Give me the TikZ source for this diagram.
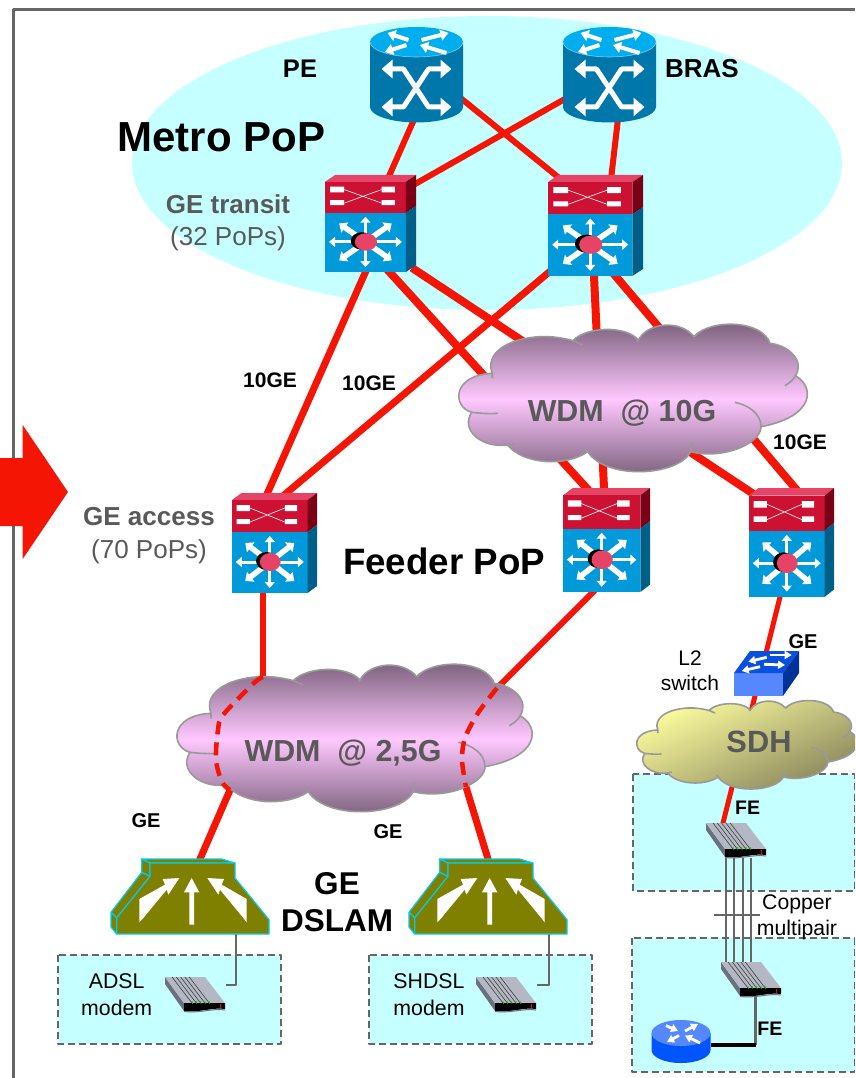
\documentclass[tikz,border=0pt]{standalone}
\usepackage{fontspec}
\setmainfont{Liberation Sans}
\usetikzlibrary{arrows.meta}
\definecolor{linkred}{HTML}{F51505}
\definecolor{popcyan}{HTML}{C6FFFF}
\definecolor{framegray}{HTML}{666666}
\definecolor{labgray}{HTML}{595959}
\definecolor{cloudline}{HTML}{999999}
\definecolor{wdmdark}{HTML}{755C76}
\definecolor{wdmpale}{HTML}{FFC8FF}
\definecolor{sdhpale}{HTML}{FFFFA0}
\definecolor{sdhdark}{HTML}{85825A}
\definecolor{swtop}{HTML}{E64466}
\definecolor{swred}{HTML}{CC1133}
\definecolor{swredside}{HTML}{7A0015}
\definecolor{swblue}{HTML}{0099D9}
\definecolor{swblueside}{HTML}{005F88}
\definecolor{cylbody}{HTML}{0077AA}
\definecolor{cyltop}{HTML}{00AEEF}
\definecolor{olivebox}{HTML}{808000}
\definecolor{oliveedge}{HTML}{00CCEE}
\definecolor{blueface}{HTML}{5588FF}
\definecolor{bluetop}{HTML}{0A50E0}
\definecolor{blueside}{HTML}{003399}
\definecolor{routerblue}{HTML}{0055FF}
\definecolor{modemtop}{HTML}{B4B8C4}
\definecolor{modemside}{HTML}{6B7080}
\tikzset{
  txt/.style 2 args={inner sep=0pt,font=\fontsize{#1}{#2}\selectfont},
  boldtxt/.style 2 args={inner sep=0pt,font=\bfseries\fontsize{#1}{#2}\selectfont},
  devbox/.style={inner sep=0pt,outer sep=0pt,minimum width=#1},
  redlink/.style={draw=linkred,line width=#1,shorten <=-5pt,shorten >=-5pt},
  reddash/.style={draw=linkred,line width=4.5pt,dash pattern=on 13pt off 8pt},
  graylink/.style={draw=framegray,line width=2.8pt},
  accessbox/.style={fill=popcyan,draw=framegray,line width=1.8pt,dash pattern=on 7pt off 4pt},
  spoke/.style={draw=white,line width=3pt,-{Triangle[width=10pt,length=6pt]}},
  diagspoke/.style={draw=white,line width=5.5pt,-{Triangle[width=12pt,length=7pt]}},
  twoway/.style={draw=white,line width=5pt,{Triangle[width=18pt,length=11pt]}-{Triangle[width=18pt,length=11pt]}},
  faceup/.style={draw=white,line width=2.8pt,-{Triangle[width=8pt,length=7pt]}},
  facewide/.style={draw=white,line width=4pt,-{Triangle[width=11pt,length=8pt]}},
  wdmshade/.style={top color=wdmdark,bottom color=wdmdark,middle color=wdmpale},
  sdhshade/.style={top color=sdhpale,bottom color=sdhdark,shading angle=25},
  pics/layerthree/.style={code={
    \fill[swtop] (0,7) -- (10,0) -- (90,0) -- (80,7) -- cycle;
    \fill[swred] (0,7) rectangle (80,39);
    \fill[swredside] (80,7) -- (90,0) -- (90,32) -- (80,39) -- cycle;
    \fill[swblue] (0,39) rectangle (80,100);
    \fill[swblueside] (80,39) -- (90,32) -- (90,93) -- (80,100) -- cycle;
    \fill[white] (5,12) rectangle (19,18) (5,26) rectangle (19,31) (56,12) rectangle (69,18) (56,26) rectangle (69,31);
    \draw[white,line width=.6pt] (19,15) -- (56,29) (19,29) -- (56,15);
    \foreach \a/\b in {36/0,-36/0,0/-26,0/26}
      \draw[spoke] (40,69) -- ++(\a,\b);
    \foreach \a/\b in {26/-19,-26/-19,26/19,-26/19}
      \draw[diagspoke] (40,69) -- ++(\a,\b);
    \fill[black] (36.5,68) ellipse (11pt and 9pt);
    \fill[swtop] (40.5,69) ellipse (11pt and 9pt);
  }},
  pics/bigcyl/.style={code={
    \fill[cylbody] (-46.5,-33) -- (-46.5,32) .. controls (-46.5,40.3) and (-25.7,47.5) .. (0,47.5)
      .. controls (25.7,47.5) and (46.5,40.3) .. (46.5,32) -- (46.5,-33) -- cycle;
    \fill[cyltop] (0,-33) ellipse (46.5pt and 15pt);
    \draw[white,opacity=.5,line width=.6pt] (-46.5,-33) .. controls (-46.5,-24.7) and (-25.7,-18) .. (0,-18)
      .. controls (25.7,-18) and (46.5,-24.7) .. (46.5,-33);
    \draw[twoway] (-35,-6) -- (-13,-6) -- (12,32) -- (35,32);
    \draw[twoway] (-35,32) -- (-13,32) -- (12,-6) -- (35,-6);
    \draw[facewide] (-8,-35) -- (-29,-42);
    \draw[facewide] (5,-35) -- (32,-42);
    \draw[facewide] (-10,-30) -- (-31.5,-23);
    \draw[facewide] (30,-22) -- (3.5,-30);
  }},
  pics/dslamshape/.style={code={
    \begin{scope}[scale=1/3,shift={(-183,-58)}]
      \path[fill=olivebox,draw=oliveedge,line width=1.2pt] (275,58) -- (515,58) -- (555,70) -- (300,70) -- cycle;
      \path[fill=olivebox,draw=oliveedge,line width=1.2pt] (275,58) -- (300,70) -- (300,110) -- (275,98) -- cycle;
      \path[fill=olivebox,draw=oliveedge,line width=1.2pt] (275,98) -- (300,110) -- (200,235) -- (183,218) -- cycle;
      \path[fill=olivebox,draw=oliveedge,line width=1.2pt] (183,218) -- (200,235) -- (200,283) -- (183,262) -- cycle;
      \path[fill=olivebox,draw=oliveedge,line width=1.2pt] (300,70) -- (555,70) -- (555,115) -- (657,240) -- (657,283) -- (200,283) -- (200,235) -- (300,110) -- cycle;
      \fill[white] (418,255) -- (418,158) -- (402,158) -- (425,115) -- (448,158) -- (432,158) -- (432,255) -- cycle;
      \fill[white] (268,248) -- (268,178) -- (345,135) -- (338,118) -- (388,115) -- (355,165) -- (350,150) -- (280,235) -- cycle;
      \fill[white] (590,248) -- (590,178) -- (515,135) -- (522,118) -- (472,115) -- (505,165) -- (510,150) -- (580,235) -- cycle;
    \end{scope}
  }},
  pics/modemshape/.style={code={
    \fill[modemside] (0,0) -- (0,7) -- (19,34) -- (19,26) -- cycle;
    \fill[modemtop] (0,0) -- (40,0) -- (60,26) -- (19,26) -- cycle;
    \fill[black] (19,26) -- (60,26) -- (60,32) .. controls (48,30) and (34,36) .. (19,34) -- cycle;
    \draw[modemside,line width=1pt] (19,34.5) .. controls (34,36.5) and (48,31) .. (60,33);
    \foreach \dx in {0,4.3,8.6,12.9,17.2}
      \draw[black!75,line width=.6pt] (7+\dx,0) -- (27+\dx,26);
    \foreach \dx in {0,4.3,8.6,12.9,17.2}
      \draw[green!80!black,line width=.7pt] (27+\dx,24) -- (27.5+\dx,27);
    \draw[red,line width=1pt] (55,26.5) -- (55,31);
  }},
  pics/netcloud/.style={code={
    \path[#1,draw=cloudline,line width=1.6pt] (123,190) .. controls (100,130) and (170,85) .. (270,80)
      .. controls (305,78) and (345,85) .. (370,92) .. controls (410,50) and (530,45) .. (570,90)
      .. controls (600,35) and (700,30) .. (740,80) .. controls (790,25) and (950,30) .. (972,100)
      .. controls (1030,105) and (1080,155) .. (1050,197) .. controls (1110,230) and (1110,320) .. (945,350)
      .. controls (945,400) and (830,450) .. (730,425) .. controls (690,500) and (470,510) .. (415,425)
      .. controls (350,470) and (220,465) .. (170,405) .. controls (90,415) and (25,360) .. (60,307)
      .. controls (0,290) and (0,195) .. (123,190) -- cycle;
    \draw[cloudline,line width=1.6pt] (123,190) -- (123,205)
      (60,307) .. controls (85,310) and (115,312) .. (140,310)
      (370,92) -- (400,105) (570,90) -- (565,95) (740,80) -- (750,72) (972,100) -- (968,90)
      (1050,197) .. controls (1045,210) and (1030,220) .. (1018,227)
      (945,350) .. controls (945,310) and (905,285) .. (865,277)
      (730,425) .. controls (733,415) and (735,405) .. (733,397)
      (415,425) -- (408,415) (170,405) -- (190,400);
  }}
}
\begin{document}
\begin{tikzpicture}[x=1pt,y=-1pt,line join=round]
  \path[use as bounding box,clip] (0,0) rectangle (855,1078);
  \def\switchlist{swa/325/175/91/97,swb/548/175/95/101,acc/232/493/85/100,fdb/563/488/87/104,fdc/749/488/85/109}
  % backgrounds
  \fill[popcyan] (487,163) ellipse (355pt and 147pt);
  \draw[framegray,line width=2.2pt] (13.5,1078) -- (13.5,9.5) -- (855,9.5);
  \path[accessbox] (58,955) rectangle (281,1044);
  \path[accessbox] (369,955) rectangle (592,1044);
  \path[accessbox] (633,774) rectangle (854.5,891);
  \path[accessbox] (632,938) rectangle (854.5,1072);
  \fill[linkred] (0,458) -- (22.7,458) -- (22.7,425) -- (68,492) -- (22.7,559) -- (22.7,526) -- (0,526) -- cycle;
  % devices as boxes, the links end on them
  \foreach \name/\x/\y/\w/\h in \switchlist
    \node[devbox=\w pt,minimum height=\h pt] (\name) at ({\x+\w/2},{\y+\h/2}) {};
  \node[devbox=93pt,minimum height=96pt] (pe) at (416.5,75) {};
  \node[devbox=93pt,minimum height=96pt] (bras) at (609.5,75) {};
  \node[devbox=158pt,minimum height=75pt] (dslama) at (190,896.5) {};
  \node[devbox=158pt,minimum height=75pt] (dslamb) at (488,896.5) {};
  \node[devbox=61pt,minimum height=34pt] (modema) at (195.5,994) {};
  \node[devbox=61pt,minimum height=34pt] (modemb) at (506.5,994) {};
  \node[devbox=61pt,minimum height=35pt] (modemc) at (736.5,840.5) {};
  \node[devbox=61pt,minimum height=35pt] (modemd) at (751.5,979.5) {};
  \node[devbox=65pt,minimum height=45pt] (ltwo) at (766.5,673.5) {};
  \node[devbox=60pt,minimum height=43pt] (router) at (681,1041.5) {};
  \coordinate (accin) at (263,677);
  \coordinate (accout) at (230,790);
  \coordinate (fdin) at (497,688);
  \coordinate (fdout) at (466,787);
  \coordinate (fejoin) at (755.5,1045);
  \coordinate (ticka) at (714,915);
  \coordinate (tickb) at (760,915);
  % metro links
  \draw[redlink=6pt] ([xshift=-4]pe.south) -- ([xshift=19]swa.north);
  \draw[redlink=6pt] ([shift={(0,25)}]pe.east) -- ([xshift=-40]swb.north);
  \draw[redlink=6pt] ([shift={(0,25)}]bras.west) -- ([shift={(0,-40)}]swa.east);
  \draw[redlink=6pt] ([xshift=8]bras.south) -- ([xshift=16]swb.north);
  \draw[redlink=7pt] ([xshift=-5]swa.south) -- ([xshift=-7]acc.north);
  \draw[redlink=7pt] ([shift={(0,47.5)}]swb.west) -- ([xshift=12]acc.north);
  \draw[redlink=8pt] ([xshift=19]swa.south) -- ([xshift=-20]fdb.north);
  \draw[redlink=8pt] ([shift={(0,47)}]swa.east) -- ([shift={(0,-51.5)}]fdc.west);
  \draw[redlink=8pt] ([xshift=-1.5]swb.south) -- ([xshift=-2.5]fdb.north);
  \draw[redlink=8pt] ([xshift=20]swb.south) -- ([xshift=3.5]fdc.north);
  % access links
  \draw[redlink=6pt] ([xshift=-11.5]acc.south) -- (accin);
  \draw[redlink=7pt] (accout) -- ([xshift=10]dslama.north);
  \draw[redlink=6pt] ([xshift=-13.5]fdb.south) -- (fdin);
  \draw[redlink=7pt] (fdout) -- (dslamb.north);
  \draw[redlink=5pt] ([xshift=-11.5]fdc.south) -- (ltwo.north);
  \draw[redlink=5pt] ([xshift=-11.5]ltwo.south) -- ([xshift=-13.5]modemc.north);
  \draw[graylink] ([xshift=46]dslama.south) |- ([shift={(0,-9)}]modema.east);
  \draw[graylink] ([xshift=61]dslamb.south) |- ([shift={(0,-9)}]modemb.east);
  \foreach \s in {-10.5,-2.5,6.5,14.5}
    \draw[framegray,line width=2pt] ([xshift=\s]modemc.south) -- ([xshift=\s-15]modemd.north);
  \draw[framegray,line width=1.2pt] (ticka) -- (tickb);
  \draw[graylink] ([xshift=4]modemd.south) -- (fejoin);
  \draw[black,line width=4pt] (router.east |- fejoin) -- (fejoin);
  % icons
  \foreach \name/\x/\y/\w/\h in \switchlist
    \pic[xscale=\w/90,yscale=\h/100] at (\x,\y) {layerthree};
  \pic at (pe) {bigcyl};
  \pic at (bras) {bigcyl};
  \pic at (111,859) {dslamshape};
  \pic at (409,859) {dslamshape};
  \pic at (165,977) {modemshape};
  \pic at (476,977) {modemshape};
  \pic at (706,823) {modemshape};
  \pic at (721,962) {modemshape};
  % L2 switch
  \fill[blueface] (734,673) rectangle (783,696);
  \fill[bluetop] (734,673) -- (750,651) -- (799,651) -- (783,673) -- cycle;
  \fill[blueside] (783,673) -- (799,651) -- (799,673) -- (783,696) -- cycle;
  \draw[faceup] (766.7,657.3) -- (748.3,661.7);
  \draw[faceup] (770,655) -- (791.7,655);
  \draw[faceup] (760,666.7) -- (741.7,671);
  \draw[faceup] (764,664.3) -- (785,665);
  % customer router
  \fill[routerblue] (651.5,1033) -- (651.5,1050) .. controls (651.5,1057) and (664,1063) .. (681,1063)
    .. controls (698,1063) and (710.5,1057) .. (710.5,1050) -- (710.5,1033) -- cycle;
  \fill[blueface] (681,1033) ellipse (29.5pt and 13pt);
  \draw[faceup] (666,1025.5) -- (678,1031);
  \draw[faceup] (685,1031) -- (698,1024);
  \draw[faceup] (679,1035.5) -- (667,1042);
  \draw[faceup] (700,1043) -- (685,1035.5);
  % clouds go over the links
  \pic[xscale=.327,yscale=1/3] at (452,310) {netcloud=wdmshade};
  \pic[scale=1/3] at (170,650) {netcloud=wdmshade};
  \pic[xscale=.207,yscale=.2] at (632.3,692) {netcloud=sdhshade};
  \draw[reddash] plot[smooth] coordinates {(accin) (254,683) (223,715) (218,730) (216,760) (222,782) (accout)};
  \draw[reddash] plot[smooth] coordinates {(fdin) (478,713) (465,738) (462,760) (fdout)};
  % labels
  \node[boldtxt={42}{46}] (metro) at (221.5,137) {Metro PoP};
  \node[boldtxt={36.7}{40}] (feeder) at (444,561) {Feeder PoP};
  \node[boldtxt={31.5}{37},align=center] (dslamlab) at (337,902) {GE\\DSLAM};
  \node[boldtxt={25.5}{30}] (pelab) at (300,69) {PE};
  \node[boldtxt={26}{30}] (braslab) at (702,69) {BRAS};
  \node[txt={26}{32},text=labgray,align=center] (transit) at (228,223) {\textbf{GE transit}\\(32 PoPs)};
  \node[txt={26}{33},text=labgray,align=center] (access) at (149,536) {\textbf{GE access}\\(70 PoPs)};
  \foreach \p/\x/\y in {a/270/380,b/369/383,c/800/442}
    \node[boldtxt={21}{25}] (tenge\p) at (\x,\y) {10GE};
  \foreach \p/\x/\y in {a/146/821,b/388/832,c/803/642}
    \node[boldtxt={20}{24}] (ge\p) at (\x,\y) {GE};
  \node[boldtxt={19.6}{24}] (fea) at (747.7,808) {FE};
  \node[boldtxt={19.6}{24}] (feb) at (770,1029) {FE};
  \node[boldtxt={30.4}{36},text=labgray] (wdmten) at (622,413) {WDM\ \ @ 10G};
  \node[boldtxt={30.4}{36},text=labgray] (wdmtwo) at (343,753) {WDM\ \ @ 2,5G};
  \node[boldtxt={30.8}{36},text=labgray] (sdh) at (759,742) {SDH};
  \node[txt={21}{25},align=center] (ltwolab) at (690,670.5) {L2\\switch};
  \node[txt={21.2}{26},align=center] (copper) at (797,917) {Copper\\multipair};
  \node[txt={21.3}{26.5},align=center] (adsl) at (116.7,994.5) {ADSL\\modem};
  \node[txt={21.3}{26.5},align=center] (shdsl) at (429,994.5) {SHDSL\\modem};
\end{tikzpicture}
\end{document}
